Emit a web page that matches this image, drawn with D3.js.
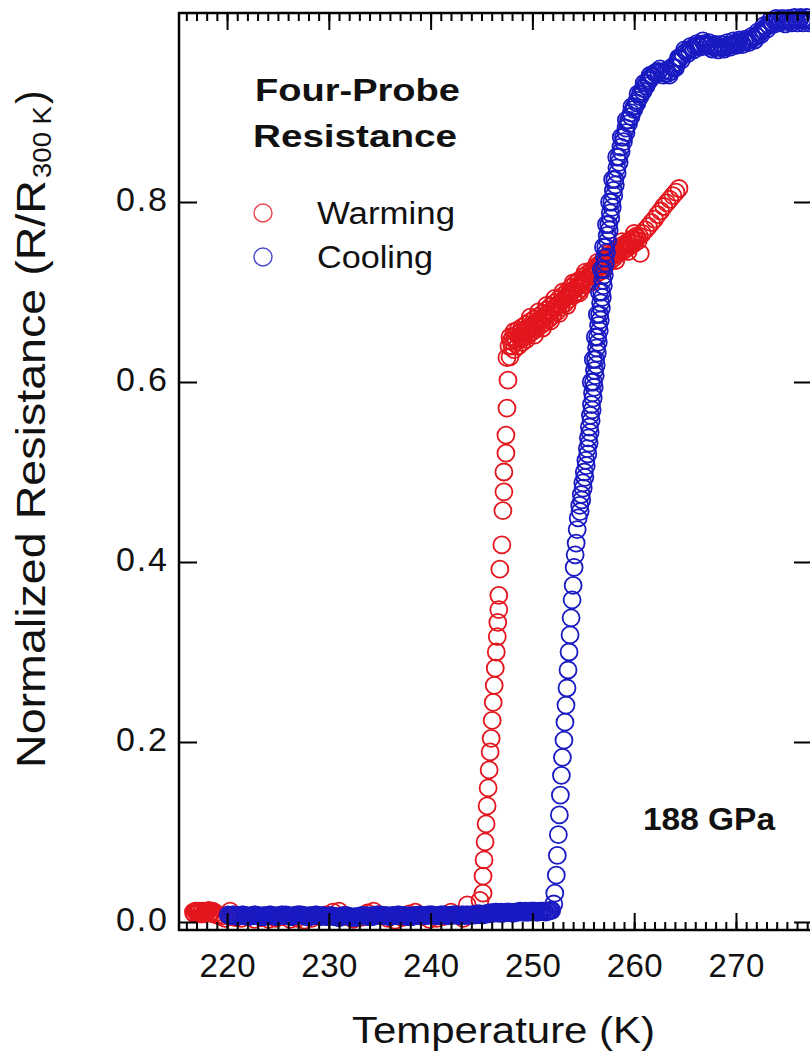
<!DOCTYPE html>
<html lang="en">
<head>
<meta charset="UTF-8">
<title>Four-Probe Resistance, 188 GPa</title>
<script src="https://d3js.org/d3.v7.min.js"></script>
<style>
    body { margin: 0; background: #fff; }
    svg { display: block; font-family: "Liberation Sans", Arial, sans-serif; }
</style>
</head>
<body>
<div id="chart"></div>
<script>
// [temperature K, R/R300K]
var warming = [
    // low-T baseline
    [216.7,.011],[216.9,.012],[217.1,.010],[217.3,.012],[217.5,.011],[217.7,.009],[217.9,.011],[218.1,.012],
    [218.3,.010],[218.5,.011],[218.7,.009],[219.0,.008],[219.4,.006],[219.8,.004],
    [216.8,.009],[217.0,.012],[217.2,.011],[217.4,.009],[217.6,.012],[217.8,.010],[218.0,.011],[218.2,.013],
    [218.4,.010],[218.6,.012],[218.85,.010],[219.2,.007],
    [220.3,.012],[220.8,.005],[221.4,.004],[222.0,.006],[222.7,.003],[223.4,.005],[224.1,.003],[224.8,.004],
    [225.5,.006],[226.2,.003],[226.9,.004],[227.6,.002],[228.3,.004],[229.0,.006],[229.7,.008],
    [230.4,.011],[231.0,.012],[231.7,.006],[232.4,.003],[233.1,.005],[233.8,.010],[234.4,.012],[235.1,.007],
    [235.8,.004],[236.5,.002],[237.2,.005],[237.9,.009],[238.5,.011],[239.2,.006],[239.9,.003],
    [240.6,.004],[241.3,.006],[242.0,.011],[242.6,.008],[243.2,.004],[243.6,.019],
    // transition
    [244.85,.024],[245.15,.032],[245.15,.051],[245.25,.069],[245.35,.089],[245.45,.109],[245.55,.129],
    [245.65,.149],[245.75,.169],[245.85,.189],[245.95,.204],[246.05,.224],[246.15,.244],[246.25,.263],
    [246.35,.282],[246.45,.300],[246.55,.317],[246.6,.333],[246.7,.347],[246.7,.363],[246.8,.392],
    [247.0,.419],[247.1,.457],[247.2,.478],[247.2,.500],[247.4,.521],[247.4,.541],[247.5,.571],
    [247.6,.602],[247.5,.627],
    // normal-state branch
    [247.7,.640],[247.9,.646],[248.1,.650],[248.3,.648],[248.5,.653],[248.7,.651],[248.9,.656],[249.1,.654],
    [249.3,.658],[249.5,.657],[249.7,.661],[249.9,.660],[250.1,.664],[250.3,.663],[250.5,.667],[250.7,.668],
    [250.9,.670],[251.1,.671],[251.3,.674],[251.5,.675],[251.7,.678],[251.9,.679],[252.1,.682],[252.3,.683],
    [252.5,.686],[252.7,.688],[252.9,.690],[253.1,.692],[253.3,.694],[253.5,.697],[253.7,.699],[253.9,.701],
    [254.1,.703],[254.3,.705],[254.5,.707],[254.7,.709],[254.9,.711],[255.1,.713],[255.3,.715],[255.5,.717],
    [255.7,.719],[255.9,.721],[256.1,.723],[256.3,.725],[256.5,.727],[256.7,.729],[256.9,.731],[257.1,.733],
    [257.3,.735],[257.5,.737],[257.7,.739],[257.9,.741],[258.1,.743],[258.3,.744],[258.5,.746],[258.7,.748],
    [258.9,.749],[259.1,.751],[259.3,.752],[259.5,.754],[259.7,.755],[259.9,.757],[260.1,.758],[260.3,.760],
    [260.5,.762],[260.6,.743],[260.8,.765],[261.1,.769],[261.4,.773],[261.7,.777],[262.0,.781],[262.3,.786],
    [262.6,.790],[262.9,.795],[263.2,.799],[263.5,.803],[263.8,.807],[264.1,.811],[264.4,.815],
    [247.8,.628],[248.2,.636],[248.6,.640],[249.0,.644],[249.4,.647],[249.8,.672],[250.2,.652],[250.6,.678],
    [251.0,.660],[251.4,.685],[251.8,.668],[252.2,.693],[252.6,.676],[253.0,.700],[253.4,.685],[254.0,.710],
    [254.6,.699],[255.2,.722],[255.8,.711],[256.4,.733],[257.0,.724],[257.6,.744],[258.2,.735],[258.8,.756],
    [259.4,.745],[260.0,.765],
    [247.8,.650],[248.0,.640],[248.2,.656],[248.4,.645],[248.6,.658],[248.8,.648],[249.0,.661],[249.2,.650],
    [249.4,.664],[249.6,.653],[249.8,.667],[250.0,.656],[250.2,.670],[250.4,.659],[250.6,.673],[250.8,.663],
    [251.0,.676],[251.2,.666],[251.4,.680],[251.6,.670],[251.8,.684],[252.0,.674],[252.2,.688],[252.4,.678],
    [252.6,.692],[252.8,.683],[253.0,.696],[253.2,.687],[253.4,.700],[253.6,.692],[253.8,.705],[254.0,.696],
    [254.2,.709],[254.4,.700],[254.6,.713],[254.8,.704],[255.0,.717],[255.2,.708],[255.4,.720],[255.6,.713],
    [255.8,.724],[256.0,.717],[256.2,.728],[256.4,.721],[256.6,.731],[256.8,.726],[257.0,.735],[257.2,.730],
    [257.4,.739],[257.6,.734],[257.8,.743],[258.0,.738],[258.2,.747],[258.4,.742],[258.6,.750],[258.8,.745],
    [259.0,.753],[259.2,.748],[259.4,.756],[259.6,.751],[259.8,.759],[260.0,.754],[260.2,.762],[260.4,.757]
];

var cooling = [
    // low-T baseline
    [220.1,.008],[220.4,.007],[220.7,.008],[221.0,.006],[221.3,.007],[221.6,.008],[221.9,.007],[222.2,.006],
    [222.5,.007],[222.8,.008],[223.1,.007],[223.4,.006],[223.7,.006],[224.0,.007],[224.3,.008],[224.6,.007],
    [224.9,.006],[225.2,.007],[225.5,.008],[225.8,.008],[226.1,.007],[226.4,.006],[226.7,.007],[227.0,.008],
    [227.3,.008],[227.6,.007],[227.9,.006],[228.2,.006],[228.5,.007],[228.8,.008],[229.1,.007],[229.4,.007],
    [229.7,.006],[230.0,.006],[230.3,.007],[230.6,.006],[230.9,.005],[231.2,.006],[231.5,.007],[231.8,.007],
    [232.1,.006],[232.4,.005],[232.7,.005],[233.0,.006],[233.3,.007],[233.6,.007],[233.9,.006],[234.2,.006],
    [234.5,.007],[234.8,.008],[235.1,.008],[235.4,.007],[235.7,.007],[236.0,.006],[236.3,.007],[236.6,.007],
    [236.9,.008],[237.2,.007],[237.5,.007],[237.8,.006],[238.1,.006],[238.4,.007],[238.7,.007],[239.0,.008],
    [239.3,.007],[239.6,.007],[239.9,.008],[240.2,.008],[240.5,.007],[240.8,.007],[241.1,.008],[241.4,.008],
    [241.7,.007],[242.0,.007],[242.3,.008],[242.6,.008],[242.9,.007],[243.2,.008],[243.5,.008],[243.8,.007],
    [244.1,.008],[244.4,.008],[244.7,.009],[245.0,.008],[245.3,.009],[245.6,.009],[245.9,.010],[246.2,.010],
    [246.5,.011],[246.8,.010],[247.1,.010],[247.4,.011],[247.7,.011],[248.0,.010],[248.3,.011],[248.6,.011],
    [248.9,.012],[249.2,.011],[249.5,.011],[249.8,.012],[250.1,.012],[250.4,.011],[250.7,.012],[251.0,.012],
    [251.3,.011],[251.6,.012],[251.9,.013],
    [220.25,.007],[220.55,.008],[220.85,.007],[221.15,.007],[221.45,.008],[221.75,.007],[222.05,.006],[222.35,.007],
    [222.65,.008],[222.95,.007],[223.25,.006],[223.55,.007],[223.85,.007],[224.15,.008],[224.45,.007],[224.75,.006],
    [225.05,.007],[225.35,.008],[225.65,.007],[225.95,.007],[226.25,.006],[226.55,.007],[226.85,.008],[227.15,.008],
    [227.45,.007],[227.75,.006],[228.05,.007],[228.35,.007],[228.65,.008],[228.95,.007],[229.25,.006],[229.55,.007],
    [229.85,.006],[230.15,.007],[230.45,.006],[230.75,.006],[231.05,.005],[231.35,.007],[231.65,.007],[231.95,.006],
    [232.25,.005],[232.55,.006],[232.85,.006],[233.15,.007],[233.45,.007],[233.75,.006],[234.05,.007],[234.35,.006],
    [234.65,.008],[234.95,.008],[235.25,.007],[235.55,.007],[235.85,.006],[236.15,.007],[236.45,.007],[236.75,.008],
    [237.05,.007],[237.35,.007],[237.65,.006],[237.95,.007],[238.25,.006],[238.55,.007],[238.85,.008],[239.15,.007],
    [239.45,.007],[239.75,.008],[240.05,.008],[240.35,.007],[240.65,.007],[240.95,.008],[241.25,.008],[241.55,.007],
    [241.85,.007],[242.15,.008],[242.45,.008],[242.75,.007],[243.05,.008],[243.35,.007],[243.65,.008],[243.95,.008],
    [244.25,.008],[244.55,.009],[244.85,.009],[245.15,.008],[245.45,.009],[245.75,.010],[246.05,.010],[246.35,.011],
    [246.65,.010],[246.95,.011],[247.25,.010],[247.55,.011],[247.85,.011],[248.15,.010],[248.45,.011],[248.75,.012],
    [249.05,.011],[249.35,.012],[249.65,.011],[249.95,.012],[250.25,.012],[250.55,.011],[250.85,.012],[251.15,.012],
    [251.45,.012],[251.75,.013],
    // transition
    [252.1,.020],[252.2,.032],[252.35,.052],[252.45,.074],[252.55,.097],[252.65,.119],[252.75,.141],
    [252.85,.163],[252.95,.183],[253.1,.202],[253.2,.222],[253.3,.241],[253.4,.260],[253.5,.280],
    [253.6,.300],[253.7,.319],[253.8,.338],[253.9,.358],[254.0,.374],[254.1,.394],[254.2,.408],
    [254.3,.421],[254.4,.436],[254.5,.449],[254.65,.463],[254.8,.475],[254.95,.488],[255.1,.500],
    [255.25,.513],[255.4,.526],[255.5,.538],[255.6,.550],[255.7,.563],[255.8,.575],[255.9,.588],
    [256.0,.600],[256.1,.613],[256.2,.625],[256.3,.638],[256.4,.650],[256.5,.663],[256.6,.675],
    [256.7,.688],[256.8,.700],[256.9,.713],[257.0,.725],[257.1,.738],[257.2,.750],[257.35,.763],
    [257.5,.775],[257.65,.788],[257.8,.800],[257.95,.813],[258.1,.825],[258.3,.838],[258.5,.850],
    [258.7,.861],[258.95,.872],[259.2,.882],[259.45,.891],[259.7,.899],[260.0,.906],[260.3,.913],
    [260.6,.920],[260.9,.926],[261.2,.932],[261.5,.937],[261.8,.941],[262.1,.944],
    [254.69,.456],[254.85,.469],[254.99,.482],[255.15,.494],[255.29,.507],[255.445,.520],[255.57,.532],
    [255.67,.544],[255.77,.557],[255.87,.569],[255.97,.582],[256.07,.594],[256.17,.607],[256.27,.619],
    [256.37,.632],[256.47,.644],[256.57,.657],[256.67,.669],[256.77,.682],[256.87,.694],[256.97,.707],
    [257.07,.719],[257.17,.732],[257.27,.744],[257.395,.757],[257.545,.769],[257.695,.782],[257.845,.794],
    [257.995,.807],[258.145,.819],[258.32,.832],[258.52,.844],[258.72,.856],[258.945,.867],[259.195,.877],
    [259.445,.887],[259.695,.895],[259.97,.903],[260.27,.910],[260.57,.917],[260.87,.923],[261.17,.929],
    [261.47,.935],[261.77,.939],[262.07,.943],
    [255.78,.600],[255.98,.625],[256.18,.650],[256.38,.675],[256.58,.700],[256.78,.725],[256.98,.750],
    [257.28,.775],[257.58,.800],[257.88,.825],[258.28,.850],[258.73,.872],[259.23,.891],[259.78,.906],
    [260.38,.920],[260.98,.932],[261.58,.941],
    // high-T plateau
    [262.4,.945],[262.7,.944],[263.0,.943],[263.3,.943],[263.6,.945],[263.9,.949],[264.2,.955],[264.5,.960],
    [264.8,.964],[265.1,.967],[265.4,.969],[265.7,.971],[266.0,.973],[266.3,.974],[266.6,.975],[266.9,.976],
    [267.2,.975],[267.5,.974],[267.8,.972],[268.1,.972],[268.4,.972],[268.7,.972],[269.0,.973],[269.3,.974],
    [269.6,.975],[269.9,.976],[270.2,.977],[270.5,.977],[270.8,.978],[271.1,.979],[271.4,.980],[271.7,.982],
    [272.0,.984],[272.3,.987],[272.6,.991],[272.9,.994],[273.2,.997],[273.5,.999],[273.8,1.001],[274.1,1.002],
    [274.4,1.002],[274.7,1.001],[275.0,1.001],[275.3,1.001],[275.6,1.002],[275.9,1.002],[276.2,1.002],
    [276.5,1.002],[276.8,1.002],[277.1,1.002],[277.4,1.002],
    [262.55,.948],[262.85,.941],[263.15,.946],[263.45,.941],[263.75,.950],[264.05,.949],[264.35,.960],[264.65,.958],
    [264.95,.969],[265.25,.965],[265.55,.973],[265.85,.969],[266.15,.976],[266.45,.972],[266.75,.979],[267.05,.973],
    [267.35,.977],[267.65,.970],[267.95,.975],[268.25,.969],[268.55,.975],[268.85,.970],[269.15,.977],[269.45,.972],
    [269.75,.979],[270.05,.974],[270.35,.980],[270.65,.975],[270.95,.981],[271.25,.977],[271.55,.984],[271.85,.980],
    [272.15,.989],[272.45,.986],[272.75,.996],[273.05,.992],[273.35,1.001],[273.65,.997],[273.95,1.004],[274.25,.999],
    [274.55,1.004],[274.85,.998],[275.15,1.004],[275.45,.999],[275.75,1.005],[276.05,.999],[276.35,1.005],[276.65,.999],
    [276.95,1.005],[277.25,.999]
];

var seriesNames = ["Warming", "Cooling"];
var seriesColors = ["#e3161e", "#1a1ac2"];
var xTicks = [220, 230, 240, 250, 260, 270];
var yTicks = [0.0, 0.2, 0.4, 0.6, 0.8];

var svg = d3.select("#chart").append("svg")
    .attr("width", 810)
    .attr("height", 1055);

// plot frame in page pixels (window.top is reserved, so no bare "top")
var plotL = 179, plotR = 812, plotT = 13, plotB = 930;

var x = d3.scaleLinear().domain([215.28, 277.47]).range([plotL, plotR]);
var y = d3.scaleLinear().domain([-0.0089, 1.0100]).range([plotB, plotT]);
var minorX = d3.range(216, 278);

// data first, axes drawn over it
var series = [warming, cooling];
series.forEach(function(data, i) {
    svg.append("g").selectAll("circle")
        .data(data)
        .enter().append("circle")
        .attr("cx", function(d) { return x(d[0]); })
        .attr("cy", function(d) { return y(d[1]); })
        .attr("r", 8.5)
        .attr("fill", "none")
        .attr("stroke", seriesColors[i])
        .attr("stroke-width", 1.8);
});

function styleAxis(g) {
    g.select(".domain").remove();
    g.selectAll(".tick line").attr("stroke", "#000").attr("stroke-width", 2);
    g.selectAll(".tick text")
        .attr("fill", "#111")
        .style("font-size", "33px")
        .style("font-family", '"Liberation Sans", Arial, sans-serif');
}

// bottom axis: inward ticks, labels below
svg.append("g")
    .attr("transform", "translate(0," + plotB + ")")
    .call(d3.axisBottom(x).tickValues(minorX).tickSizeInner(-8).tickSizeOuter(0).tickFormat(""))
    .call(styleAxis);
var xAxis = svg.append("g")
    .attr("transform", "translate(0," + plotB + ")")
    .call(d3.axisBottom(x).tickValues(xTicks).tickSizeInner(-17).tickSizeOuter(0).tickFormat(d3.format("d")))
    .call(styleAxis);
xAxis.selectAll(".tick text").attr("y", 47).attr("dy", 0).attr("textLength", 56);

// top axis mirror
svg.append("g")
    .attr("transform", "translate(0," + plotT + ")")
    .call(d3.axisBottom(x).tickValues(minorX).tickSizeInner(8).tickSizeOuter(0).tickFormat(""))
    .call(styleAxis);
svg.append("g")
    .attr("transform", "translate(0," + plotT + ")")
    .call(d3.axisBottom(x).tickValues(xTicks).tickSizeInner(17).tickSizeOuter(0).tickFormat(""))
    .call(styleAxis);

// left axis
var yAxis = svg.append("g")
    .attr("transform", "translate(" + plotL + ",0)")
    .call(d3.axisLeft(y).tickValues(yTicks).tickSizeInner(-18).tickSizeOuter(0).tickPadding(12).tickFormat(d3.format(".1f")))
    .call(styleAxis);
yAxis.selectAll(".tick text").attr("dy", "0.26em").attr("textLength", 51).style("font-size", "34px");

// right axis, ticks only
svg.append("g")
    .attr("transform", "translate(" + plotR + ",0)")
    .call(d3.axisLeft(y).tickValues(yTicks).tickSizeInner(18).tickSizeOuter(0).tickFormat(""))
    .call(styleAxis);

svg.append("rect")
    .attr("x", plotL).attr("y", plotT)
    .attr("width", plotR - plotL).attr("height", plotB - plotT)
    .attr("fill", "none")
    .attr("stroke", "#000")
    .attr("stroke-width", 2.5);

// axis titles
svg.append("text")
    .attr("x", 352).attr("y", 1043)
    .attr("textLength", 303).attr("lengthAdjust", "spacingAndGlyphs")
    .style("font-size", "37px").attr("fill", "#111")
    .text("Temperature (K)");

var yTitle = svg.append("g").attr("fill", "#111");
yTitle.append("text")
    .attr("transform", "translate(45,768) rotate(-90)")
    .attr("textLength", 588).attr("lengthAdjust", "spacingAndGlyphs")
    .style("font-size", "41px")
    .text("Normalized Resistance (R/R");
yTitle.append("text")
    .attr("transform", "translate(51,178) rotate(-90)")
    .attr("textLength", 72).attr("lengthAdjust", "spacingAndGlyphs")
    .style("font-size", "26px")
    .text("300 K");
yTitle.append("text")
    .attr("transform", "translate(45,104) rotate(-90)")
    .style("font-size", "41px")
    .text(")");

// legend block
var legend = svg.append("g").attr("fill", "#111");
legend.append("text")
    .attr("x", 255).attr("y", 101)
    .attr("textLength", 205).attr("lengthAdjust", "spacingAndGlyphs")
    .style("font-size", "31px").style("font-weight", "bold")
    .text("Four-Probe");
legend.append("text")
    .attr("x", 253).attr("y", 147)
    .attr("textLength", 204).attr("lengthAdjust", "spacingAndGlyphs")
    .style("font-size", "31px").style("font-weight", "bold")
    .text("Resistance");

var legendY = [213, 257];
var legendLen = [138, 116];
seriesNames.forEach(function(name, i) {
    legend.append("circle")
        .attr("cx", 263).attr("cy", legendY[i]).attr("r", 9)
        .attr("fill", "none")
        .attr("stroke", seriesColors[i])
        .attr("stroke-opacity", 0.8)
        .attr("stroke-width", 1.4);
    legend.append("text")
        .attr("x", 317).attr("y", legendY[i] + 11)
        .attr("textLength", legendLen[i]).attr("lengthAdjust", "spacingAndGlyphs")
        .style("font-size", "31px")
        .text(name);
});

svg.append("text")
    .attr("x", 643).attr("y", 830)
    .attr("textLength", 132).attr("lengthAdjust", "spacingAndGlyphs")
    .style("font-size", "32px").style("font-weight", "bold")
    .attr("fill", "#111")
    .text("188 GPa");
</script>
</body>
</html>
